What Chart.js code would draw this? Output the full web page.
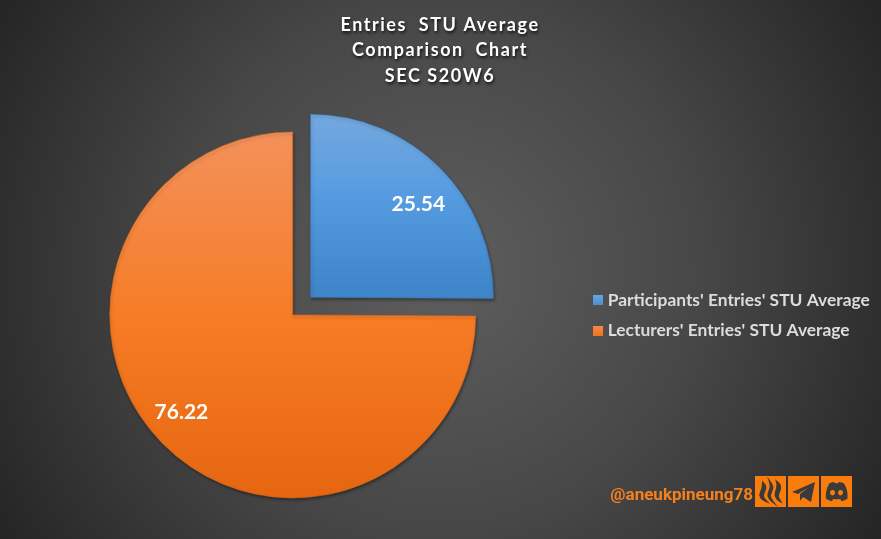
<!DOCTYPE html>
<html><head><meta charset="utf-8">
<style>html,body{margin:0;padding:0;background:#333}#w{width:881px;height:539px;position:relative}</style>
<script src="https://cdn.jsdelivr.net/npm/chart.js@4"></script></head>
<body><div id="w"><canvas id="c" width="881" height="539"></canvas></div>
<script>
const categories = ["Participants' Entries' STU Average", "Lecturers' Entries' STU Average"];
const seriesValues = [25.54, 76.22];
const titleLines = ["Entries  STU Average", "Comparison  Chart", "SEC S20W6"];
const handle = "@aneukpineung78";

const PIE_RADIUS = 183, OFFSET = 50;

function sliceFill(ctx, stops, top, bottom) {
  const g = ctx.createLinearGradient(0, top, 0, bottom);
  stops.forEach((c, i) => g.addColorStop(i / (stops.length - 1), c));
  return g;
}
function swatch(light, dark) {
  const s = document.createElement('canvas');
  s.width = 10; s.height = 10;
  const c = s.getContext('2d');
  const g = c.createLinearGradient(0, 0, 0, 10);
  g.addColorStop(0, light); g.addColorStop(1, dark);
  c.fillStyle = g; c.fillRect(0, 0, 10, 10);
  return s;
}
const swatches = [swatch('#6aa5e0', '#4a8fd0'), swatch('#f58a4a', '#f0741c')];

const background = {
  id: 'background',
  beforeDraw(chart) {
    const { ctx, width, height } = chart;
    const g = ctx.createRadialGradient(440, 270, 0, 440, 270, 520);
    g.addColorStop(0, '#5e5e5e');
    g.addColorStop(0.5, '#474747');
    g.addColorStop(1, '#242424');
    ctx.save(); ctx.fillStyle = g; ctx.fillRect(0, 0, width, height); ctx.restore();
  }
};
const stylers = {
  id: 'stylers',
  afterLayout(chart) {
    const ctx = chart.ctx;
    const t = chart.titleBlock;
    if (!t._wrapped) {
      const d = t.draw.bind(t);
      t.draw = (...a) => {
        ctx.save();
        ctx.translate(440 - (t.left + t.right) / 2, 0);
        ctx.letterSpacing = '1.55px';
        ctx.shadowColor = 'rgba(0,0,0,0.75)'; ctx.shadowBlur = 3; ctx.shadowOffsetX = 1; ctx.shadowOffsetY = 2;
        d(...a);
        ctx.restore();
      };
      t._wrapped = true;
    }
    const l = chart.legend;
    l.top += 50; l.bottom += 50;
    const dx = 583 - l.left;
    l.left += dx; l.right += dx;
  },
  beforeDatasetsDraw(chart) {
    const arcs = chart.getDatasetMeta(0).data;
    // the library grows slices wider than a half turn by the draw offset and trims their edges; undo both
    arcs.forEach(arc => {
      const c = arc.endAngle - arc.startAngle;
      if (c > Math.PI && !arc._trimmed) {
        const inset = OFFSET / 4;
        arc.outerRadius = PIE_RADIUS - inset;
        const d = inset / Math.PI / PIE_RADIUS / 2;
        arc.startAngle -= d; arc.endAngle += d;
        arc._trimmed = true;
      }
    });
    const ctx = chart.ctx;
    ctx.save();
    ctx.shadowColor = 'rgba(0,0,0,0.35)'; ctx.shadowBlur = 3; ctx.shadowOffsetX = 1; ctx.shadowOffsetY = 2;
  },
  afterDatasetsDraw(chart) { chart.ctx.restore(); }
};
const valueLabels = {
  id: 'valueLabels',
  afterDatasetsDraw(chart) {
    const { ctx } = chart;
    const nudges = [[4, 10], [-7.5, -6]];
    chart.getDatasetMeta(0).data.forEach((arc, i) => {
      const mid = (arc.startAngle + arc.endAngle) / 2;
      const r = PIE_RADIUS * 0.8 + OFFSET / 4;
      const x = arc.x + Math.cos(mid) * r + nudges[i][0];
      const y = arc.y + Math.sin(mid) * r + nudges[i][1];
      ctx.save();
      ctx.font = 'bold 21px Lato, "Open Sans", sans-serif';
      ctx.fillStyle = '#ffffff'; ctx.textAlign = 'center'; ctx.textBaseline = 'middle';
      ctx.fillText(seriesValues[i].toFixed(2), x, y);
      ctx.restore();
    });
  }
};
const ICONS = [
  "M8 7c3 3 3 5 1 9s-1 6 2 9c-5-2-7-5-5-9s2-6 2-9zM15 6c3 4 3 6 1 10s-1 6 2 10c-4-3-6-6-4-10s2-7 1-10zM22 6c4 3 4 6 2 10s-1 6 1 9c-4-2-5-6-4-9s2-7 1-10z",
  "M4 16L27 6L23 26L15 21L12 25L12 18L21 11L10 18Z",
  "M8 7.500c2-1 4-1.500 5-1.500l.7 1.300c1.500-.2 2.600-.2 3.600 0l.7-1.300c1 0 3 .5 5 1.500c3 4.500 4 10 3.500 15c-2 1.500-4 2.300-6 2.700l-1.300-2c.8-.3 1.500-.6 2-1c-3 1.500-8 1.500-11 0c.5.4 1.200.7 2 1l-1.300 2c-2-.4-4-1.200-6-2.700c-.5-5 .5-10.500 3.500-15zM11.500 14a2.500 2.700 0 1 0 .01 0zM19.500 14a2.500 2.700 0 1 0 .01 0z"
];
const branding = {
  id: 'branding',
  afterDraw(chart) {
    const { ctx } = chart;
    ctx.save();
    ctx.font = 'bold 17px Roboto, sans-serif';
    ctx.fillStyle = '#f5801c'; ctx.textAlign = 'right'; ctx.textBaseline = 'alphabetic';
    ctx.fillText(handle, 753, 500);
    ICONS.forEach((p, i) => {
      const x = 755 + i * 33, y = 476;
      ctx.fillStyle = '#fa7d0c';
      ctx.fillRect(x, y, 31, 31);
      ctx.translate(x, y);
      ctx.fillStyle = '#3a3a3a'; ctx.strokeStyle = '#3a3a3a';
      const path = new Path2D(p);
      ctx.fill(path, 'evenodd');
      if (i === 0) { ctx.lineWidth = 2; ctx.stroke(path); }
      ctx.translate(-x, -y);
    });
    ctx.restore();
  }
};

const ctx = document.getElementById('c').getContext('2d');
new Chart(ctx, {
  type: 'pie',
  data: {
    labels: categories,
    datasets: [{
      data: seriesValues,
      backgroundColor: [
        sliceFill(ctx, ['#77a9de', '#559be0', '#3f85c9'], 115, 298),
        sliceFill(ctx, ['#f39058', '#f67b24', '#e5650f'], 133, 498)
      ],
      borderColor: ['#3d79b4', '#d9691c'],
      borderWidth: 0.6,
      offset: OFFSET,
      radius: PIE_RADIUS
    }]
  },
  options: {
    responsive: false,
    animation: false,
    radius: PIE_RADIUS,
    layout: { padding: { left: 19, top: 8, right: 0, bottom: 16 } },
    plugins: {
      tooltip: { enabled: false },
      title: {
        display: true,
        text: titleLines,
        color: '#ffffff',
        font: { family: 'Lato, "Open Sans", sans-serif', size: 18, weight: 'bold', lineHeight: 1.43 },
        padding: { top: 4, bottom: 0 }
      },
      legend: {
        position: 'right',
        align: 'center',
        labels: {
          usePointStyle: true,
          pointStyleWidth: 3,
          boxHeight: 10, padding: 13,
          color: '#dcdcdc',
          font: { family: 'Lato, "Open Sans", sans-serif', size: 17.4, weight: 'bold' },
          generateLabels(chart) {
            return categories.map((text, i) => ({
              text, pointStyle: swatches[i], strokeStyle: 'transparent', lineWidth: 0, index: i, hidden: false, fontColor: '#dcdcdc'
            }));
          }
        }
      }
    }
  },
  plugins: [background, stylers, valueLabels, branding]
});
</script></body></html>
